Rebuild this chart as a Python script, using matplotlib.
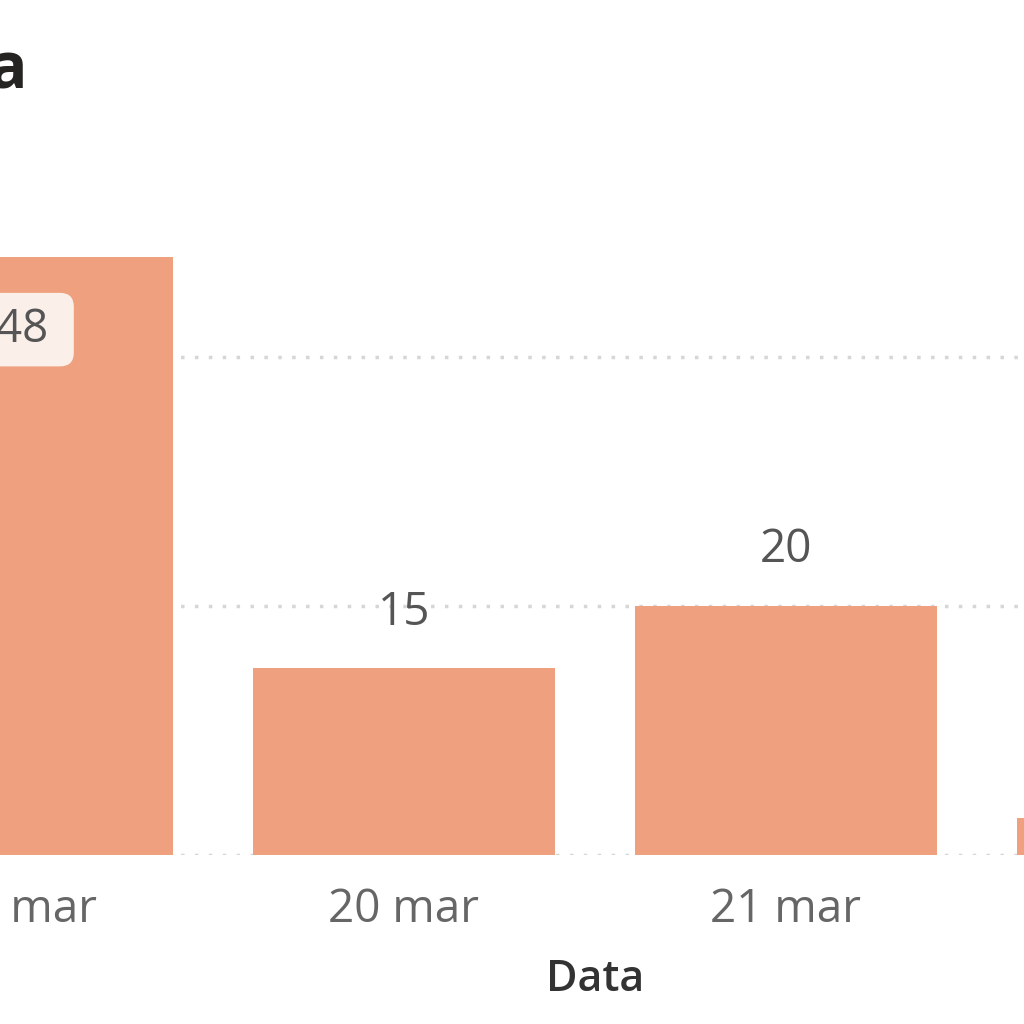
import matplotlib.pyplot as plt

# Daily values (chart is cropped: first and last bars partly off-frame)
dates = ['19 mar', '20 mar', '21 mar', '22 mar']
values = [48, 15, 20, 3]

bar_color = '#EFA07F'
plt.rcParams['font.family'] = ['Open Sans', 'DejaVu Sans']

fig = plt.figure(figsize=(10.24, 10.24), dpi=100)
ax = fig.add_axes([0, 169 / 1024, 1, 855 / 1024])

x = list(range(len(dates)))
bars = ax.bar(x, values, width=0.79, color=bar_color, zorder=2)

# dotted gridlines
for g in [0, 20, 40]:
    ax.axhline(g, color='#d6d6d6', linestyle=(0, (1, 3)), linewidth=2.5, zorder=1)

for s in ax.spines.values():
    s.set_visible(False)
ax.set_yticks([])
ax.set_xticks(x)
ax.set_xticklabels(dates, fontsize=33, color='#666666')
ax.tick_params(axis='x', length=0, pad=23)
ax.set_xlabel('Data', fontsize=31, color='#333333', fontweight='semibold')
ax.xaxis.set_label_coords(595 / 1024, -0.12)

# limits set after ticks so the view is not widened
ax.set_xlim(-22 / 382, 1002 / 382)
ax.set_ylim(0, 855 / 12.45)

# value labels
for i, v in enumerate(values):
    if v >= 40:
        ax.annotate(' ' + str(v) + ' ', (i, v), xytext=(0, -52), textcoords='offset points',
                    ha='center', va='center', fontsize=33, color='#555555',
                    bbox=dict(boxstyle='round,pad=0.3', fc='#FBEFEA', ec='none'),
                    zorder=3, annotation_clip=True)
    else:
        ax.annotate(str(v), (i, v), xytext=(0, 40), textcoords='offset points',
                    ha='center', va='center', fontsize=33, color='#555555',
                    zorder=3, annotation_clip=True)

fig.text(27 / 1024, 1 - 72 / 1024, 'a', ha='right', va='center',
         fontsize=46, fontweight='bold', color='#252423')

fig.savefig('out.png', dpi=100, facecolor='white')
